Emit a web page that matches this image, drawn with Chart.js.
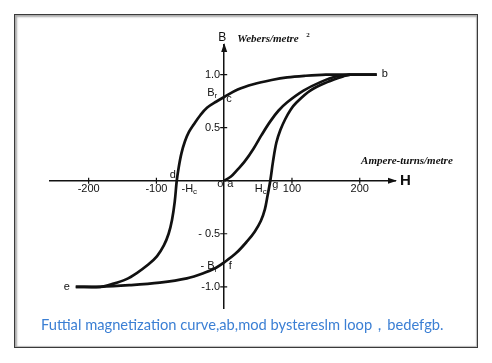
<!DOCTYPE html>
<html>
<head>
<meta charset="utf-8">
<script src="https://cdn.jsdelivr.net/npm/chart.js@4.4.1/dist/chart.umd.min.js"></script>
<style>
  html, body { margin: 0; padding: 0; background: #fff; }
  #wrap { position: relative; width: 492px; height: 363px; }
  #frame {
    position: absolute; left: 14px; top: 14px; width: 462px; height: 332px;
    border: 1px solid #3a3a3a;
    box-shadow: inset 2px 2px 2px #aaa, inset -1px -1px 1px #bbb;
    pointer-events: none;
  }
</style>
</head>
<body>
<div id="wrap">
  <canvas id="chart" width="492" height="363"></canvas>
  <div id="frame"></div>
</div>
<script>
// H in ampere-turns/metre, B in webers/metre^2
// descending branch b-c-d-e (listed from e up to b)
const upperH = [-219, -183, -163, -145, -129, -112, -99, -89, -82, -77, -73, -70, -67, -63, -58, -52, -45, -35, -25, -12, 0, 20, 43, 70, 93, 120, 150, 186, 225];
const upperB = [-1.0, -1.0, -0.97, -0.93, -0.87, -0.79, -0.71, -0.61, -0.50, -0.37, -0.20, 0, 0.13, 0.26, 0.37, 0.46, 0.53, 0.62, 0.69, 0.745, 0.79, 0.86, 0.91, 0.95, 0.975, 0.99, 1.0, 1.0, 1.0];

// ascending branch e-f-g-b
const lowerH = [-219, -183, -140, -95, -55, -30, -12, 0, 18, 34, 45, 54, 60, 64, 68, 72, 77, 83, 90, 98, 107, 127, 152, 176, 186, 225];
const lowerB = [-1.0, -1.0, -0.985, -0.96, -0.92, -0.87, -0.82, -0.77, -0.68, -0.57, -0.48, -0.38, -0.27, -0.14, 0, 0.18, 0.36, 0.48, 0.58, 0.67, 0.74, 0.85, 0.93, 0.985, 1.0, 1.0];

// initial magnetization curve a-b
const initH = [0, 10, 19, 30, 43, 55, 68, 80, 93, 117, 142, 166, 186];
const initB = [0, 0.04, 0.1, 0.18, 0.3, 0.43, 0.56, 0.66, 0.74, 0.85, 0.93, 0.985, 1.0];

const hTicks = [-200, -100, 100, 200];
const bTicks = [-1.0, -0.5, 0.5, 1.0];
const bTickLabels = ['-1.0', '- 0.5', '0.5', '1.0'];

const caption = 'Futtial magnetization curve,ab,mod bystereslm loop，bedefgb.';

const toPts = (hs, bs) => hs.map((h, i) => ({ x: h, y: bs[i] }));

const ink = '#111';
const tickFont = { family: 'Liberation Sans', size: 11 };

function lineSet(data) {
    return {
        data: data,
        showLine: true,
        borderColor: ink,
        borderWidth: 2.7,
        pointRadius: 0,
        tension: 0.35,
        fill: false
    };
}

// text marks placed next to points of the plot (data anchor + pixel nudge)
const notes = [
    { t: 'b', h: 225, b: 1.0, dx: 5, dy: -1, align: 'left' },
    { t: 'c', h: 0, b: 0.79, dx: 2, dy: 2, align: 'left' },
    { t: 'd', h: -70, b: 0, dx: -4, dy: -6, align: 'center' },
    { t: 'o', h: 0, b: 0, dx: -4, dy: 3, align: 'center' },
    { t: 'a', h: 0, b: 0, dx: 6, dy: 3, align: 'center' },
    { t: 'g', h: 68, b: 0, dx: 5, dy: 4, align: 'center' },
    { t: 'f', h: 0, b: -0.77, dx: 6, dy: 4, align: 'center' },
    { t: 'e', h: -219, b: -1.0, dx: -9, dy: 0, align: 'center' }
];

function sub(ctx, main, s, x, y, rightAlign) {
    ctx.font = '11px "Liberation Sans"';
    const w1 = ctx.measureText(main).width;
    ctx.font = '8px "Liberation Sans"';
    const w2 = ctx.measureText(s).width;
    let x0 = rightAlign ? x - w1 - w2 : x;
    ctx.textAlign = 'left';
    ctx.font = '11px "Liberation Sans"';
    ctx.fillText(main, x0, y);
    ctx.font = '8px "Liberation Sans"';
    ctx.fillText(s, x0 + w1, y + 3);
}

const decorPlugin = {
    id: 'decor',
    afterDraw(chart) {
        const ctx = chart.ctx;
        const xs = chart.scales.x, ys = chart.scales.y;
        const ox = xs.getPixelForValue(0), oy = ys.getPixelForValue(0);
        const top = ys.getPixelForValue(ys.max), right = xs.getPixelForValue(xs.max);
        ctx.save();
        ctx.fillStyle = ink;
        ctx.strokeStyle = ink;
        ctx.lineWidth = 1.2;

        // tick crosses
        ctx.beginPath();
        hTicks.forEach(v => {
            const p = xs.getPixelForValue(v);
            ctx.moveTo(p, oy - 3); ctx.lineTo(p, oy + 3);
        });
        bTicks.forEach(v => {
            const p = ys.getPixelForValue(v);
            ctx.moveTo(ox - 4, p); ctx.lineTo(ox + 3, p);
        });
        ctx.stroke();

        // arrow heads
        ctx.beginPath();
        ctx.moveTo(ox, top - 2);
        ctx.lineTo(ox - 3, top + 7);
        ctx.lineTo(ox + 3, top + 7);
        ctx.closePath();
        ctx.fill();
        ctx.beginPath();
        ctx.moveTo(right + 2, oy);
        ctx.lineTo(right - 7, oy - 3);
        ctx.lineTo(right - 7, oy + 3);
        ctx.closePath();
        ctx.fill();

        ctx.textBaseline = 'middle';
        // B tick labels
        ctx.textAlign = 'right';
        ctx.font = '11px "Liberation Sans"';
        bTicks.forEach((v, i) => {
            ctx.fillText(bTickLabels[i], ox - 4, ys.getPixelForValue(v));
        });

        // axis names
        ctx.textAlign = 'center';
        ctx.font = '12px "Liberation Sans"';
        ctx.fillText('B', ox - 2, top - 7);
        ctx.textAlign = 'left';
        ctx.font = 'bold 15px "Liberation Sans"';
        ctx.fillText('H', right + 5, oy);
        ctx.font = 'italic bold 11px "Liberation Serif"';
        ctx.fillText('Webers/metre', ox + 13, top - 6);
        ctx.font = 'bold 7px "Liberation Serif"';
        ctx.fillText('2', ox + 82, top - 10);
        ctx.font = 'italic bold 11px "Liberation Serif"';
        ctx.fillText('Ampere-turns/metre', xs.getPixelForValue(202), ys.getPixelForValue(0.18));

        // point letters
        ctx.font = '11px "Liberation Sans"';
        notes.forEach(n => {
            ctx.textAlign = n.align;
            ctx.fillText(n.t, xs.getPixelForValue(n.h) + n.dx, ys.getPixelForValue(n.b) + n.dy);
        });

        // remanence and coercive force labels
        sub(ctx, 'B', 'r', ox - 7, ys.getPixelForValue(0.79) - 4, true);
        sub(ctx, '- B', 'r', ox - 7, ys.getPixelForValue(-0.77) + 4, true);
        sub(ctx, '-H', 'c', xs.getPixelForValue(-63), oy + 8, false);
        sub(ctx, 'H', 'c', xs.getPixelForValue(45), oy + 8, false);

        // caption
        ctx.fillStyle = '#3b7fd4';
        ctx.font = '14.7px Lato';
        ctx.textAlign = 'left';
        ctx.fillText(caption, 41, 325);
        ctx.restore();
    }
};

new Chart(document.getElementById('chart'), {
    type: 'scatter',
    data: {
        datasets: [
            lineSet(toPts(upperH, upperB)),
            lineSet(toPts(lowerH, lowerB)),
            lineSet(toPts(initH, initB))
        ]
    },
    options: {
        responsive: false,
        animation: false,
        layout: { padding: { left: 50, right: 97, top: 45, bottom: 55 } },
        plugins: { legend: { display: false }, tooltip: { enabled: false } },
        scales: {
            x: {
                type: 'linear',
                min: -257, max: 252,
                position: { y: 0 },
                afterBuildTicks: s => { s.ticks = hTicks.map(v => ({ value: v })); },
                ticks: { color: ink, font: tickFont, padding: 0, maxRotation: 0, autoSkip: false },
                grid: { display: false, tickLength: 2 },
                border: { color: ink, width: 1.5 }
            },
            y: {
                type: 'linear',
                min: -1.2, max: 1.28,
                position: { x: 0 },
                afterBuildTicks: s => { s.ticks = bTicks.map(v => ({ value: v })); },
                ticks: { display: false },
                grid: { display: false },
                border: { color: ink, width: 1.5 }
            }
        }
    },
    plugins: [decorPlugin]
});
</script>
</body>
</html>
